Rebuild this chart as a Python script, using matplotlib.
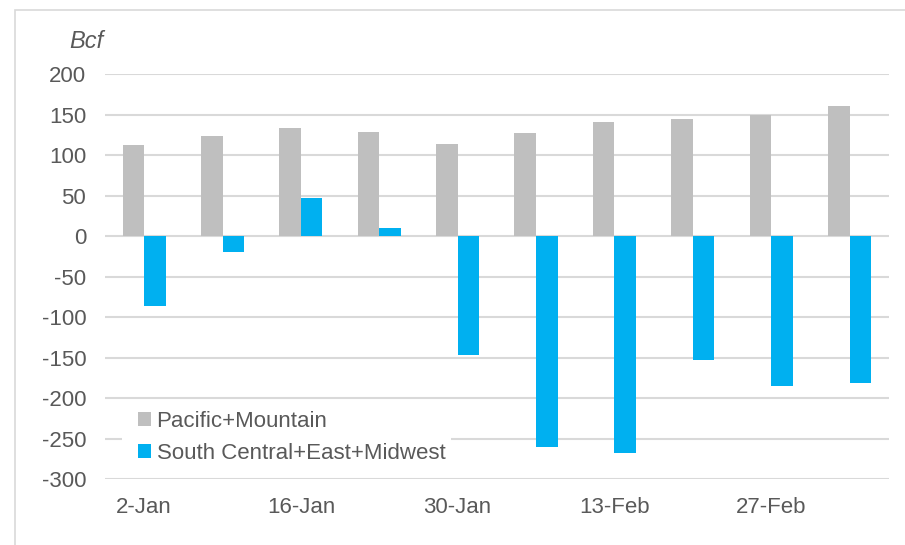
import matplotlib.pyplot as plt
import numpy as np
from matplotlib.patches import Rectangle

plt.rcParams['font.family'] = ['Liberation Sans', 'DejaVu Sans']
plt.rcParams['axes.unicode_minus'] = False

## Data mingguan (Bcf)
weeks = ['2-Jan', '9-Jan', '16-Jan', '23-Jan', '30-Jan',
         '6-Feb', '13-Feb', '20-Feb', '27-Feb', '6-Mar']
pacific_mountain = [112, 124, 133, 129, 114, 127, 141, 144, 149, 161]
south_east_midwest = [-86, -20, 47, 10, -147, -261, -268, -153, -185, -182]

grey = '#bfbfbf'
blue = '#00b0f0'
text_col = '#595959'
grid_col = '#d9d9d9'
fs = 16

fig = plt.figure(figsize=(9.05, 5.45), dpi=100)
ax = fig.add_axes([0.116, 0.1211, 0.866, 0.7431])

## Bingkai luar tipis
fig.patches.append(Rectangle((15/905, -0.1), 1.2, 0.1 + (545-10)/545, transform=fig.transFigure,
                             fill=False, edgecolor=grid_col, linewidth=1.2))

x = np.arange(len(weeks))
w = 0.275
ax.bar(x - w/2, pacific_mountain, w, color=grey, label='Pacific+Mountain', zorder=3)
ax.bar(x + w/2, south_east_midwest, w, color=blue, label='South Central+East+Midwest', zorder=3)

ax.set_xlim(-0.5, len(weeks) - 0.5)
ax.set_ylim(-300, 200)
ax.set_yticks(np.arange(-300, 201, 50))
ax.set_xticks(x[::2])
ax.set_xticklabels(weeks[::2])
ax.yaxis.grid(True, color=grid_col, linewidth=1.5, zorder=0)
ax.set_axisbelow(True)
for s in ax.spines.values():
    s.set_visible(False)
ax.tick_params(axis='both', length=0, labelsize=fs, colors=text_col)
ax.tick_params(axis='y', pad=13.5)
ax.tick_params(axis='x', pad=13)

fig.text(0.077, 0.923, 'Bcf', fontsize=17, style='italic', color=text_col, va='center')

## Latar putih legenda menutupi garis grid
ax.add_patch(Rectangle((0.022, 0.035), 0.42, 0.15, transform=ax.transAxes,
                       facecolor='white', edgecolor='none', zorder=1))
leg = ax.legend(loc='upper left', bbox_to_anchor=(0.036, 0.18), frameon=False,
                fontsize=fs, handlelength=0.6, handleheight=0.6, handletextpad=0.25,
                labelspacing=0.5, borderpad=0.2, borderaxespad=0)
for t in leg.get_texts():
    t.set_color(text_col)

fig.savefig('out.png', dpi=100)
